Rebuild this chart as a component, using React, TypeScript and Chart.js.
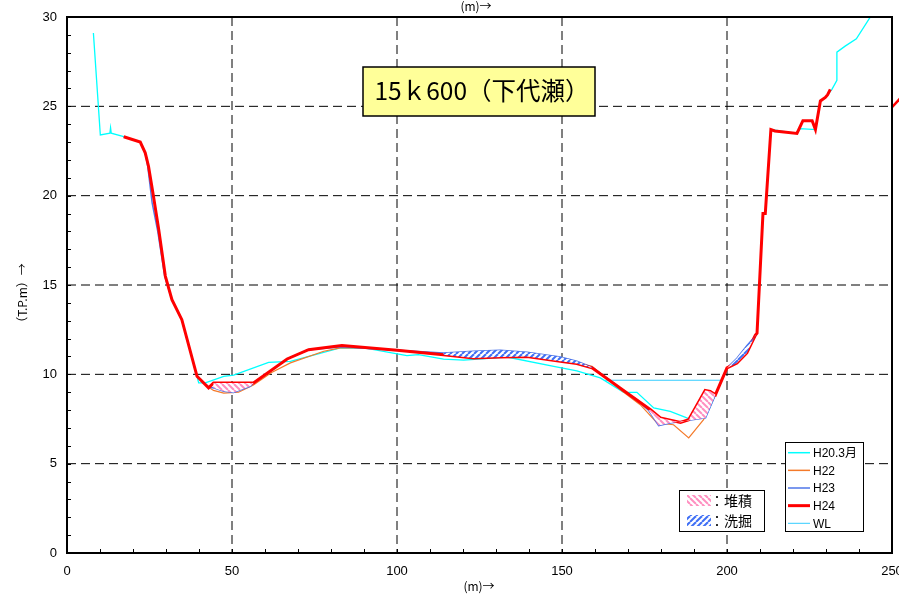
import React, { useEffect, useRef } from 'react';
import { Chart, registerables } from 'chart.js';
Chart.register(...registerables);

// ---- data ----
const H20_X = [8.0,10.1,13.0,13.2,13.4,17.2,22.2,23.7,24.7,26.2,27.8,29.8,31.8,34.8,39.4,39.9,41.9,47.5,50.5,61.1,67.7,82.8,90.9,103,106.5,114.1,120.2,133.3,147.5,154.5,161.6,168.7,172.7,177.8,182.8,188.4,193.5,196.5,200,203,206,208.6,209.1,210.9,211.6,213.3,221.2,222.2,226.8,228.3,229.8,231.8,233.3,233.3,235.8,239.2,243.6];
const H20_Y = [29.1,23.4,23.5,23.8,23.5,23.3,23.0,22.4,21.65,19.97,18.1,15.5,14.2,13.06,9.89,9.52,9.52,9.89,9.95,10.67,10.73,11.48,11.45,11.05,11.1,10.85,10.8,10.97,10.45,10.2,9.8,8.99,8.99,8.12,7.93,7.52,7.6,8.86,10.36,10.64,11.2,12.2,12.3,19.0,19.0,23.7,23.48,23.75,23.7,25.3,25.5,25.95,26.46,28.03,28.37,28.78,30.05];

const H22_X = [17.2,22.2,23.7,24.7,26.2,27.8,29.8,31.8,34.8,39.4,42.0,44.4,47.5,52,56.5,62,67.7,77.8,82.8,90,100,114.1,123.2,131.3,139.4,149.5,154.5,159.1,164,168,173.7,178.8,183.8,188.4,192.9,196.5,200,203,206,208.6];
const H22_Y = [23.3,23.0,22.4,21.65,19.97,18.1,15.5,14.18,13.06,9.89,9.4,9.1,8.95,9.0,9.4,10.1,10.64,11.29,11.48,11.5,11.35,11.15,11.1,11.1,11.05,10.85,10.65,10.45,9.7,9.1,8.3,7.28,7.18,6.44,7.46,8.86,10.36,10.7,11.3,12.1];

const H23_X = [17.2,22.2,23.7,24.5,25.8,27.5,29.6,31.8,34.8,39.4,42.9,44.4,47.5,50.5,55.5,56.5,66.7,73.2,83.3,100,114.1,123.2,131.3,139.4,149.5,154.5,159.1,169.7,172.5,176.2,179.3,182.8,193.5,196.5,200,203,206,208.6,209.1];
const H23_Y = [23.3,23.0,22.4,21.6,19.6,18.0,15.5,14.18,13.06,9.89,9.3,9.24,9.05,8.99,9.33,9.5,10.86,11.38,11.55,11.35,11.2,11.29,11.35,11.23,10.97,10.73,10.4,8.96,8.6,8.0,7.13,7.28,7.56,8.86,10.36,10.9,11.6,12.15,12.25];

const H24_X = [17.2,22.2,23.7,24.7,26.2,27.8,29.8,31.8,34.8,39.4,42.9,44.4,56.5,66.7,73.2,83.3,100,114.1,123.2,131.3,139.4,149.5,154.5,159.1,169.7,176.8,179.8,185.9,188.4,193.4,194.9,196.5,200,203,206,208.6,209.1,210.9,211.6,213.3,214.5,221.2,223,225.8,226.8,228.3,229.8,230.5,231.3];
const H24_Y = [23.3,23.0,22.4,21.65,19.97,18.1,15.5,14.18,13.06,9.89,9.24,9.52,9.52,10.86,11.38,11.62,11.35,11.1,10.92,10.97,11.0,10.73,10.6,10.36,8.96,8.02,7.56,7.31,7.46,9.1,9.05,8.86,10.36,10.64,11.2,12.2,12.3,19.0,19.0,23.7,23.62,23.48,24.2,24.2,23.7,25.3,25.5,25.65,25.95];
const H24_EXT_X = [250, 252.5];
const H24_EXT_Y = [24.95, 25.45];

const WL_X = [163.1, 198.6];
const WL_Y = [9.67, 9.67];

// deposition (堆積: H24 above H23) and scour (洗掘: H24 below H23) ranges
const DEPOSIT_RANGES = [[44.4, 56.5], [176, 196.5]];
const SCOUR_RANGES = [[114.1, 159.1], [200, 208.6]];

const X_TICKS = [0, 50, 100, 150, 200, 250];
const Y_TICKS = [0, 5, 10, 15, 20, 25, 30];
const LEGEND_LABELS = ['H20.3月', 'H22', 'H23', 'H24', 'WL'];
const HATCH_LABELS = ['：堆積', '：洗掘'];
const TITLE = '15ｋ600（下代瀬）';
const X_TITLE = '(m)→';
const Y_TITLE = '（T.P.m）→';

const COLORS = { H20: '#00ffff', H22: '#f47a2a', H23: '#4f76e8', H24: '#ff0000', WL: '#33ccff' };
const PINK = '#ff8fc0';
const BLUE = '#3f6ff5';

const pts = (xs: number[], ys: number[]) => xs.map((x, i) => ({ x, y: ys[i] }));

function polygon(upX: number[], upY: number[], loX: number[], loY: number[], a: number, b: number) {
  const up = pts(upX, upY).filter(p => p.x >= a && p.x <= b);
  const lo = pts(loX, loY).filter(p => p.x >= a && p.x <= b).reverse();
  return [...up, ...lo];
}

function makePattern(color: string, falling: boolean) {
  const s = 6;
  const c = document.createElement('canvas');
  c.width = s; c.height = s;
  const g = c.getContext('2d')!;
  g.fillStyle = '#ffffff';
  g.fillRect(0, 0, s, s);
  g.strokeStyle = color;
  g.lineWidth = 2;
  for (let i = -1; i <= 1; i++) {
    g.beginPath();
    if (falling) { g.moveTo(i * s, 0); g.lineTo(i * s + s, s); }
    else { g.moveTo(i * s, s); g.lineTo(i * s + s, 0); }
    g.stroke();
  }
  return g.createPattern(c, 'repeat')!;
}

export default function App() {
  const ref = useRef<HTMLCanvasElement>(null);
  useEffect(() => {
    document.body.style.margin = '0';
    const canvas = ref.current!;
    const pinkPat = makePattern(PINK, true);
    const bluePat = makePattern(BLUE, false);

    const lineDs = (label: string, data: any, color: string, width: number, order: number, extra: any = {}) => ({
      label, data, borderColor: color, backgroundColor: color, borderWidth: width,
      pointRadius: 0, tension: 0, fill: false, order, ...extra,
    });

    const hatchDs: any[] = [];
    DEPOSIT_RANGES.forEach(([a, b]) => hatchDs.push({
      label: 'dep', data: polygon(H24_X, H24_Y, H23_X, H23_Y, a, b), borderWidth: 0,
      borderColor: 'rgba(0,0,0,0)', backgroundColor: pinkPat, fill: 'shape', pointRadius: 0, order: 0,
    }));
    SCOUR_RANGES.forEach(([a, b]) => hatchDs.push({
      label: 'scour', data: polygon(H23_X, H23_Y, H24_X, H24_Y, a, b), borderWidth: 0,
      borderColor: 'rgba(0,0,0,0)', backgroundColor: bluePat, fill: 'shape', pointRadius: 0, order: 0,
    }));

    const decor = {
      id: 'decor',
      beforeDatasetsDraw(chart: any) {
        const { ctx, chartArea: a, scales: { x, y } } = chart;
        ctx.save();
        ctx.strokeStyle = '#000';
        ctx.lineWidth = 1;
        ctx.setLineDash([9, 5]);
        X_TICKS.slice(1, -1).forEach(v => {
          const px = x.getPixelForValue(v);
          ctx.beginPath(); ctx.moveTo(px, a.top); ctx.lineTo(px, a.bottom); ctx.stroke();
        });
        Y_TICKS.slice(1, -1).forEach(v => {
          const py = y.getPixelForValue(v);
          ctx.beginPath(); ctx.moveTo(a.left, py); ctx.lineTo(a.right, py); ctx.stroke();
        });
        ctx.setLineDash([]);
        for (let v = 10; v < 250; v += 10) {
          const px = Math.round(x.getPixelForValue(v)) + 0.5;
          ctx.beginPath(); ctx.moveTo(px, a.bottom); ctx.lineTo(px, a.bottom - 4); ctx.stroke();
        }
        for (let v = 1; v < 30; v++) {
          const py = Math.round(y.getPixelForValue(v)) + 0.5;
          ctx.beginPath(); ctx.moveTo(a.left, py); ctx.lineTo(a.left + 4, py); ctx.stroke();
        }
        ctx.restore();
      },
      afterDraw(chart: any) {
        const { ctx, chartArea: a } = chart;
        ctx.save();
        // frame
        ctx.strokeStyle = '#000';
        ctx.lineWidth = 2;
        ctx.strokeRect(a.left, a.top, a.right - a.left, a.bottom - a.top);

        // title box
        ctx.fillStyle = '#ffff99';
        ctx.fillRect(363, 67, 232, 49);
        ctx.lineWidth = 1.5;
        ctx.strokeRect(363, 67, 232, 49);
        ctx.fillStyle = '#000';
        ctx.font = "24.5px 'Noto Sans CJK JP'";
        ctx.textAlign = 'center';
        ctx.textBaseline = 'middle';
        ctx.fillText(TITLE, 482, 91);

        // axis titles
        ctx.font = "12px 'Noto Sans CJK JP'";
        ctx.fillText(X_TITLE, 479, 586);
        ctx.fillText(X_TITLE, 476, 6);
        ctx.save();
        ctx.translate(22, 296);
        ctx.rotate(-Math.PI / 2);
        ctx.fillText(Y_TITLE, 0, 0);
        ctx.restore();

        // series legend
        ctx.fillStyle = '#fff';
        ctx.fillRect(785.5, 442.5, 78, 89);
        ctx.lineWidth = 1;
        ctx.strokeStyle = '#000';
        ctx.strokeRect(785.5, 442.5, 78, 89);
        const lc = [COLORS.H20, COLORS.H22, COLORS.H23, COLORS.H24, COLORS.WL];
        const lw = [1.5, 1.5, 1.5, 3, 1];
        ctx.textAlign = 'left';
        ctx.font = "12px 'Liberation Sans', 'Noto Sans CJK JP'";
        LEGEND_LABELS.forEach((t, i) => {
          const yy = 452.7 + i * 17.65;
          ctx.strokeStyle = lc[i];
          ctx.lineWidth = lw[i];
          ctx.beginPath(); ctx.moveTo(788, yy); ctx.lineTo(810, yy); ctx.stroke();
          ctx.fillStyle = '#000';
          ctx.fillText(t, 813, yy + 1);
        });

        // hatch legend
        ctx.fillStyle = '#fff';
        ctx.fillRect(679.5, 490.5, 85, 41);
        ctx.strokeStyle = '#000';
        ctx.lineWidth = 1;
        ctx.strokeRect(679.5, 490.5, 85, 41);
        ctx.fillStyle = pinkPat;
        ctx.fillRect(687, 495, 24, 11);
        ctx.fillStyle = bluePat;
        ctx.fillRect(687, 515, 24, 11);
        ctx.fillStyle = '#000';
        ctx.font = "14px 'Noto Sans CJK JP'";
        ctx.fillText(HATCH_LABELS[0], 710, 501);
        ctx.fillText(HATCH_LABELS[1], 710, 521);
        ctx.restore();
      },
    };

    const chart = new Chart(canvas, {
      type: 'line',
      data: {
        datasets: [
          ...hatchDs,
          lineDs('H24', pts(H24_X, H24_Y), COLORS.H24, 3, 1),
          lineDs('H24ext', pts(H24_EXT_X, H24_EXT_Y), COLORS.H24, 2.5, 1, { clip: false }),
          lineDs('H23', pts(H23_X, H23_Y), COLORS.H23, 1.5, 2),
          lineDs('H22', pts(H22_X, H22_Y), COLORS.H22, 1.2, 3),
          lineDs('H20.3月', pts(H20_X, H20_Y), COLORS.H20, 1.3, 4),
          lineDs('WL', pts(WL_X, WL_Y), COLORS.WL, 1.2, 5),
        ],
      },
      options: {
        animation: false,
        responsive: false,
        devicePixelRatio: 1,
        parsing: false as any,
        layout: { padding: { left: 0, right: 7, top: 17, bottom: 0 } },
        plugins: { legend: { display: false }, tooltip: { enabled: false } },
        scales: {
          x: {
            type: 'linear', min: 0, max: 250,
            grid: { display: false, drawTicks: false },
            border: { display: false },
            ticks: { stepSize: 50, padding: 11, color: '#000', font: { family: "'Liberation Sans'", size: 13 }, maxRotation: 0 },
            afterFit: (s: any) => { s.height = 41; s.paddingLeft = 0; s.paddingRight = 0; },
          },
          y: {
            type: 'linear', min: 0, max: 30,
            grid: { display: false, drawTicks: false },
            border: { display: false },
            ticks: { stepSize: 5, padding: 10, color: '#000', font: { family: "'Liberation Sans'", size: 13 } },
            afterFit: (s: any) => { s.width = 67; s.paddingTop = 0; s.paddingBottom = 0; },
          },
        },
      },
      plugins: [decor],
    } as any);
    return () => chart.destroy();
  }, []);
  return <canvas ref={ref} width={899} height={594} style={{ display: 'block' }} />;
}
